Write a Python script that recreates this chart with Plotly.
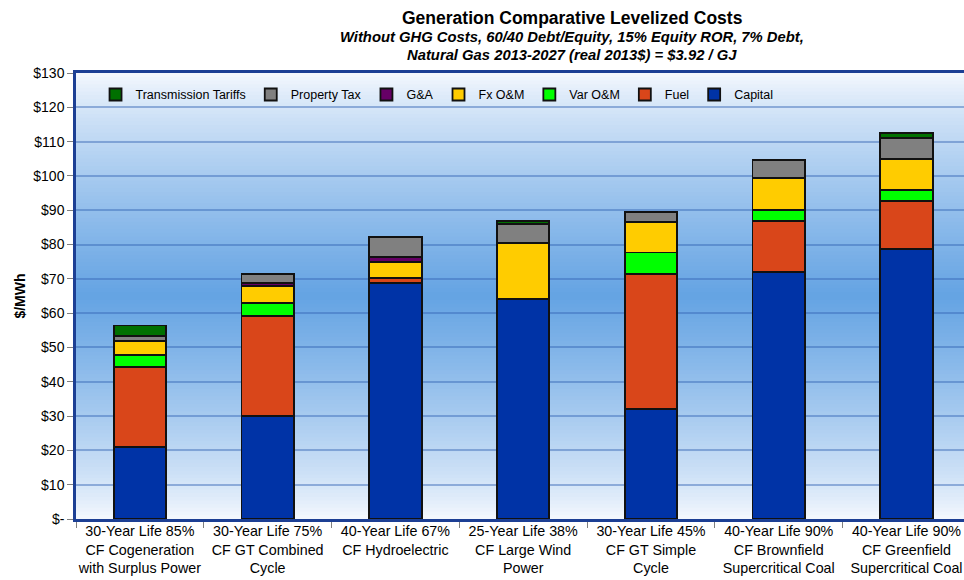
import plotly.graph_objects as go

# Levelized cost components by generation technology ($/MWh, real 2013$)
categories = [
    "30-Year Life 85%<br>CF Cogeneration<br>with Surplus Power",
    "30-Year Life 75%<br>CF GT Combined<br>Cycle",
    "40-Year Life 67%<br>CF Hydroelectric<br> ",
    "25-Year Life 38%<br>CF Large Wind<br>Power",
    "30-Year Life 45%<br>CF GT Simple<br>Cycle",
    "40-Year Life 90%<br>CF Brownfield<br>Supercritical Coal",
    "40-Year Life 90%<br>CF Greenfield<br>Supercritical Coal",
]
capital = [21.1, 30.0, 68.8, 64.1, 32.1, 72.0, 78.8]
fuel = [23.1, 29.2, 1.4, 0.0, 39.4, 14.9, 14.0]
var_om = [3.7, 3.7, 0.0, 0.0, 6.2, 3.2, 3.0]
fx_om = [3.9, 5.1, 4.8, 16.4, 8.8, 9.2, 9.2]
g_and_a = [0.0, 0.7, 1.3, 0.0, 0.0, 0.0, 0.0]
property_tax = [1.6, 2.6, 5.9, 5.6, 3.1, 5.3, 6.0]
transmission = [3.0, 0.0, 0.0, 0.7, 0.0, 0.0, 1.4]

y_tick_values = list(range(0, 131, 10))
y_tick_labels = ["$-"] + [f"${v}" for v in range(10, 131, 10)]

series = [
    ("Capital", capital, "#0033a6"),
    ("Fuel", fuel, "#d9461a"),
    ("Var O&M", var_om, "#00ff00"),
    ("Fx O&M", fx_om, "#ffcc00"),
    ("G&A", g_and_a, "#660066"),
    ("Property Tax", property_tax, "#808080"),
    ("Transmission Tariffs", transmission, "#007000"),
]

FONT = "Liberation Sans, Arial, sans-serif"

fig = go.Figure()
for name, values, color in series:
    fig.add_trace(go.Bar(
        name=name,
        x=categories,
        y=values,
        marker=dict(color=color, line=dict(color="#111111", width=1.8)),
    ))

# Vertical gradient behind the plot: pale at top/bottom, blue in the middle
shapes = []
n_strips = 120
edge = (246, 249, 254)
center = (100, 163, 227)
for i in range(n_strips):
    t = (i + 0.5) / n_strips
    w = 1 - abs(2 * t - 1)
    w = w ** 0.8
    r, g, b = (round(e + (c - e) * w) for e, c in zip(edge, center))
    shapes.append(dict(
        type="rect", xref="x domain", yref="y domain",
        x0=0, x1=1, y0=i / n_strips, y1=(i + 1) / n_strips + 0.002,
        fillcolor=f"rgb({r},{g},{b})", line=dict(width=0), layer="below",
    ))

fig.update_layout(
    width=964,
    height=580,
    margin=dict(l=76, r=0, t=73, b=61, autoexpand=False),
    paper_bgcolor="white",
    plot_bgcolor="rgba(0,0,0,0)",
    barmode="stack",
    bargap=0.59,
    shapes=shapes,
    font=dict(family=FONT, size=13, color="black"),
    showlegend=True,
    legend=dict(
        orientation="h",
        traceorder="reversed",
        x=0.022, xanchor="left",
        y=0.951, yanchor="middle",
        bgcolor="rgba(0,0,0,0)",
        font=dict(size=12.5),
        itemwidth=30,
    ),
    annotations=[
        dict(text="<b>Generation Comparative Levelized Costs</b>",
             xref="paper", yref="paper", x=0.5586, y=1.0, yshift=55,
             showarrow=False, font=dict(size=17.5), xanchor="center", yanchor="middle"),
        dict(text="<b><i>Without GHG Costs, 60/40 Debt/Equity, 15% Equity ROR, 7% Debt,</i></b>",
             xref="paper", yref="paper", x=0.5586, y=1.0, yshift=36,
             showarrow=False, font=dict(size=14.8), xanchor="center", yanchor="middle"),
        dict(text="<b><i>Natural Gas 2013-2027 (real 2013$) = $3.92 / GJ</i></b>",
             xref="paper", yref="paper", x=0.5586, y=1.0, yshift=18,
             showarrow=False, font=dict(size=14.8), xanchor="center", yanchor="middle"),
    ],
)

fig.update_xaxes(
    range=[-0.5, 6.45],
    automargin=False,
    tickangle=0,
    showline=True, linecolor="#1c3f94", linewidth=2.5, mirror=True,
    ticks="outside", tickson="boundaries", ticklen=6, tickcolor="#7f7f7f",
    tickfont=dict(size=14.3),
    ticklabelstandoff=-3,
    showgrid=False,
)
fig.update_yaxes(
    range=[0, 130],
    automargin=False,
    tickvals=y_tick_values, ticktext=y_tick_labels,
    tickfont=dict(size=14),
    ticks="outside", ticklen=6, tickcolor="#7f7f7f",
    showline=True, linecolor="#1c3f94", linewidth=2.5,
    showgrid=True, gridcolor="rgba(50,100,180,0.45)", gridwidth=1.5,
    zeroline=False,
    title=dict(text="<b>$/MWh</b>", font=dict(size=14), standoff=5),
)

fig.write_html("out.html")
